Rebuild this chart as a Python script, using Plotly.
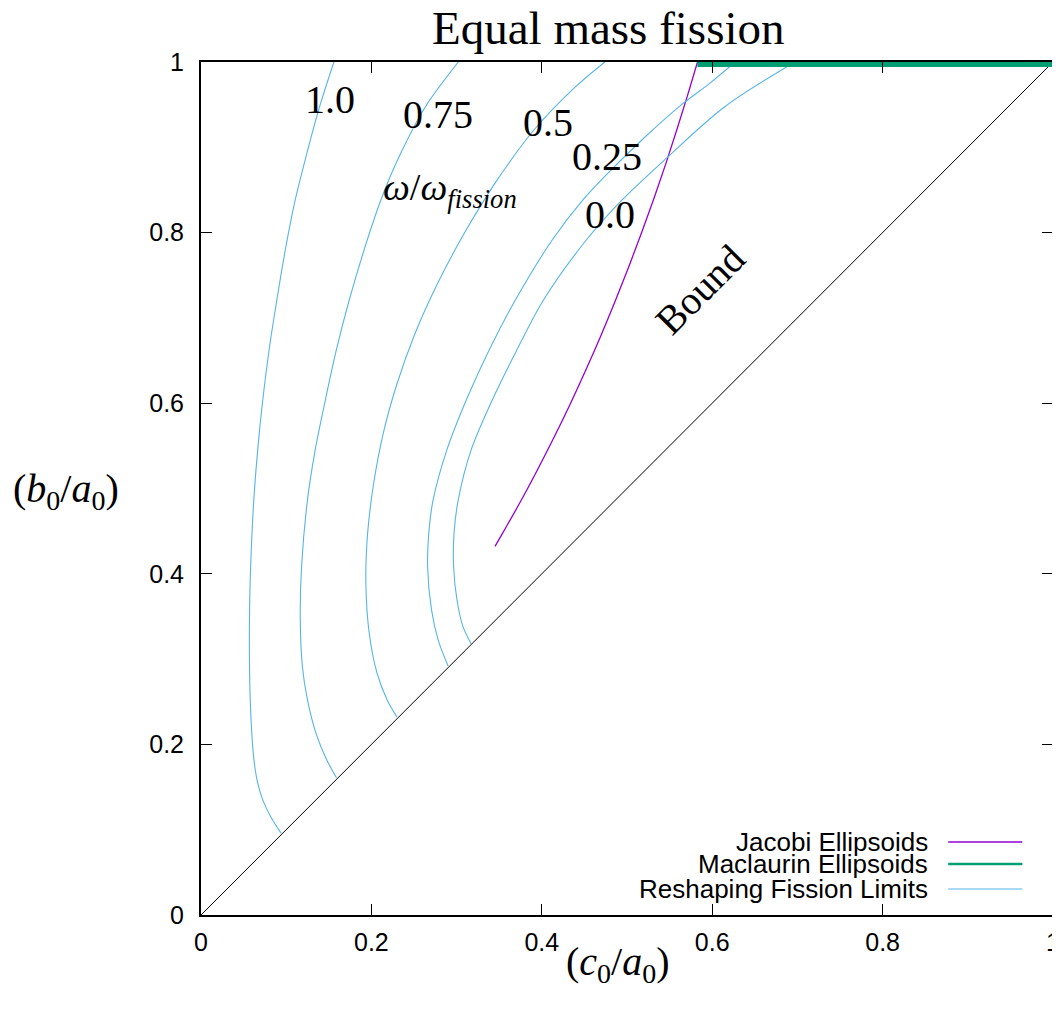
import plotly.graph_objects as go

# ---------------- data ----------------
# Jacobi ellipsoid sequence (c0/a0, b0/a0)
jacobi_c = [0.3451, 0.3496, 0.3724, 0.3939, 0.4144, 0.4338, 0.4522, 0.4697,
            0.4863, 0.5021, 0.5172, 0.5316, 0.5453, 0.5583, 0.5708, 0.5827]
jacobi_b = [0.4322, 0.44, 0.48, 0.52, 0.56, 0.60, 0.64, 0.68,
            0.72, 0.76, 0.80, 0.84, 0.88, 0.92, 0.96, 1.00]

# Maclaurin ellipsoids (b0/a0 = 1)
maclaurin_c = [0.5827, 1.0]
maclaurin_b = [1.0, 1.0]

# bound line (b0 = c0)
bound_c = [0.0, 1.0]
bound_b = [0.0, 1.0]

# Reshaping fission limits, one curve per omega/omega_fission
fis_10_c = [0.094, 0.082, 0.0725, 0.0665, 0.063, 0.061, 0.0578, 0.0568, 0.0572, 0.0590,
            0.0620, 0.0665, 0.0725, 0.080, 0.089, 0.099, 0.1105, 0.1235, 0.139, 0.156]
fis_10_b = [0.096, 0.115, 0.135, 0.155, 0.175, 0.193, 0.252, 0.311, 0.369, 0.428,
            0.487, 0.545, 0.604, 0.663, 0.721, 0.780, 0.838, 0.890, 0.947, 1.0]

fis_075_c = [0.159, 0.1475, 0.135, 0.125, 0.119, 0.1165, 0.118, 0.125, 0.134, 0.146,
             0.159, 0.174, 0.195, 0.211, 0.233, 0.263, 0.302]
fis_075_b = [0.161, 0.182, 0.213, 0.252, 0.291, 0.349, 0.408, 0.487, 0.545, 0.604,
             0.663, 0.721, 0.791, 0.838, 0.890, 0.947, 1.0]

fis_05_c = [0.230, 0.2185, 0.2065, 0.1975, 0.1935, 0.1955, 0.2025, 0.2135, 0.2295,
            0.2505, 0.2775, 0.3095, 0.3465, 0.3905, 0.4385, 0.474]
fis_05_b = [0.232, 0.252, 0.284, 0.330, 0.389, 0.447, 0.505, 0.563, 0.621,
            0.680, 0.740, 0.800, 0.860, 0.920, 0.970, 1.0]

fis_025_c = [0.290, 0.2785, 0.2705, 0.266, 0.268, 0.2725, 0.2885, 0.3115, 0.3385,
             0.369, 0.412, 0.448, 0.478, 0.519, 0.564, 0.597, 0.627]
fis_025_b = [0.292, 0.322, 0.358, 0.408, 0.455, 0.487, 0.545, 0.604, 0.663,
             0.721, 0.791, 0.838, 0.870, 0.910, 0.950, 0.975, 1.0]

fis_00_c = [0.317, 0.3075, 0.3005, 0.2965, 0.2970, 0.3020, 0.3170, 0.3420, 0.3710,
            0.4020, 0.4520, 0.4940, 0.5460, 0.6140, 0.697]
fis_00_b = [0.318, 0.338, 0.369, 0.408, 0.448, 0.487, 0.545, 0.604, 0.663,
            0.721, 0.791, 0.838, 0.887, 0.947, 1.0]

fission_curves = [(fis_10_c, fis_10_b), (fis_075_c, fis_075_b), (fis_05_c, fis_05_b),
                  (fis_025_c, fis_025_b), (fis_00_c, fis_00_b)]

# curve labels (text, c0/a0, b0/a0)
curve_labels = ["1.0", "0.75", "0.5", "0.25", "0.0"]
label_c = [0.151, 0.278, 0.407, 0.476, 0.480]
label_b = [0.956, 0.938, 0.929, 0.889, 0.821]

tick_vals = [0, 0.2, 0.4, 0.6, 0.8, 1]
tick_text = ["0", "0.2", "0.4", "0.6", "0.8", "1"]

legend_names = ["Jacobi Ellipsoids", "Maclaurin Ellipsoids", "Reshaping Fission Limits"]

# ---------------- style ----------------
C_JAC = "#9400d3"
C_MAC = "#009e73"
C_FIS = "#56b4e9"
SERIF = "Liberation Serif, Times New Roman, serif"
SANS = "Liberation Sans, Arial, sans-serif"

fig = go.Figure()

fig.add_trace(go.Scatter(x=jacobi_c, y=jacobi_b, mode="lines", name=legend_names[0],
                         line=dict(color=C_JAC, width=1.3, shape="spline"), showlegend=False))
for i, (cx, by) in enumerate(fission_curves):
    fig.add_trace(go.Scatter(x=cx, y=by, mode="lines", name=legend_names[2],
                             line=dict(color=C_FIS, width=1.1, shape="spline", smoothing=0.9),
                             showlegend=False))
fig.add_trace(go.Scatter(x=bound_c, y=bound_b, mode="lines", name="Bound",
                         line=dict(color="black", width=1), showlegend=False))
fig.add_trace(go.Scatter(x=maclaurin_c, y=maclaurin_b, mode="lines", name=legend_names[1],
                         line=dict(color=C_MAC, width=10), showlegend=False))

annotations = []
for t, cx, by in zip(curve_labels, label_c, label_b):
    annotations.append(dict(x=cx, y=by, xref="x", yref="y", text=t, showarrow=False,
                            xanchor="center", yanchor="middle",
                            font=dict(family=SERIF, size=40, color="black")))
annotations.append(dict(x=0.292, y=0.850, xref="x", yref="y",
                        text="<i>ω</i>/<i>ω</i><sub><i>fission</i></sub>", showarrow=False,
                        xanchor="center", yanchor="middle",
                        font=dict(family=SERIF, size=38, color="black")))
annotations.append(dict(x=0.586, y=0.733, xref="x", yref="y", text="Bound", showarrow=False,
                        xanchor="center", yanchor="middle",
                        textangle=-45, font=dict(family=SERIF, size=40, color="black")))
# title and axis titles
annotations.append(dict(x=0.478, y=1.040, xref="paper", yref="paper", text="Equal mass fission",
                        xanchor="center", yanchor="middle",
                        showarrow=False, font=dict(family=SERIF, size=47, color="black")))
annotations.append(dict(x=0.489, y=-0.058, xref="paper", yref="paper",
                        text="(<i>c</i><sub>0</sub>/<i>a</i><sub>0</sub>)", showarrow=False,
                        xanchor="center", yanchor="middle",
                        font=dict(family=SERIF, size=40, color="black")))
annotations.append(dict(x=-0.158, y=0.497, xref="paper", yref="paper",
                        text="(<i>b</i><sub>0</sub>/<i>a</i><sub>0</sub>)", showarrow=False,
                        xanchor="center", yanchor="middle",
                        font=dict(family=SERIF, size=40, color="black")))

# manual legend (text on the left, sample on the right)
leg_y = [0.0856, 0.0598, 0.0305]
leg_col = [C_JAC, C_MAC, C_FIS]
leg_w = [1.3, 2.5, 1.1]
shapes = []
for name, yy, col, w in zip(legend_names, leg_y, leg_col, leg_w):
    annotations.append(dict(x=0.856, y=yy, xref="paper", yref="paper", text=name,
                            xanchor="right", yanchor="middle", showarrow=False,
                            font=dict(family=SANS, size=26, color="black")))
    shapes.append(dict(type="line", xref="paper", yref="paper", x0=0.877, x1=0.964,
                       y0=yy, y1=yy, line=dict(color=col, width=w)))

axis_common = dict(range=[0, 1], tickvals=tick_vals, ticktext=tick_text, ticks="inside",
                   ticklen=11, tickwidth=1, tickcolor="black", showline=True, linewidth=2,
                   linecolor="black", mirror="ticks", showgrid=False, zeroline=False,
                   automargin=False,
                   tickfont=dict(family=SANS, size=25, color="black"))

# the page body adds an 8px offset, so the figure is 8px smaller and margins shifted
fig.update_layout(
    width=1052, height=1002,
    margin=dict(l=193, r=7, t=54, b=95, pad=0),
    paper_bgcolor="white", plot_bgcolor="white",
    xaxis=dict(**axis_common, ticklabelstandoff=4),
    yaxis=dict(**axis_common, ticklabelstandoff=10),
    annotations=annotations, shapes=shapes,
    showlegend=False,
)

fig.write_html("out.html")
